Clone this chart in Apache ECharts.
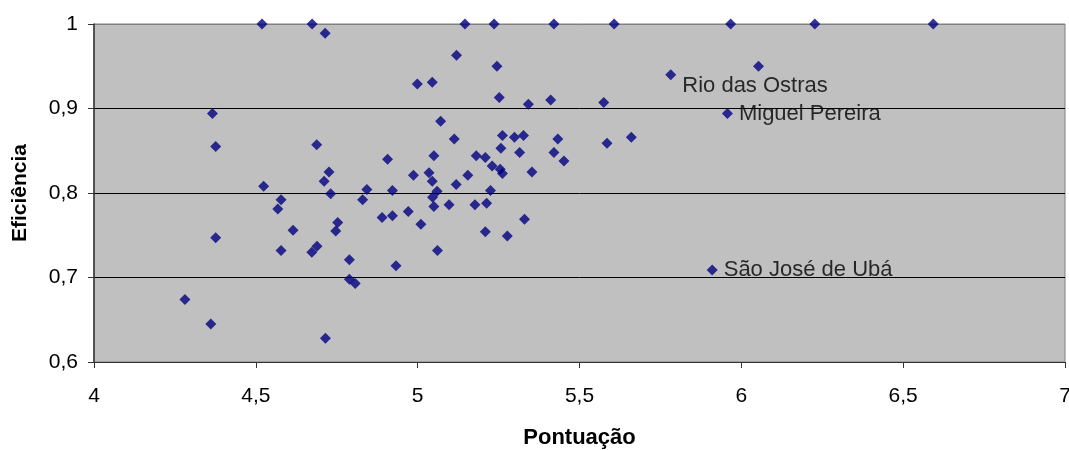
<!DOCTYPE html>
<html>
<head>
<meta charset="utf-8">
<script src="https://cdn.jsdelivr.net/npm/echarts@6/dist/echarts.min.js"></script>
<style>
  html, body { margin: 0; padding: 0; background: #fff; }
  #chart { width: 1069px; height: 450px; }
</style>
</head>
<body>
<div id="chart"></div>
<script>
// Municípios: pontuação (x) vs eficiência (y)
var pontuacao = [
  4.519, 4.674, 4.714, 5.146, 5.236, 5.421, 5.607, 5.967, 6.227, 6.593,
  6.053, 4.999, 5.045, 5.120, 5.245, 5.252, 5.342, 5.411, 5.575,
  4.366, 4.376, 4.688, 4.907, 4.726, 4.711, 4.987, 4.524, 4.731, 4.843,
  4.922, 4.830, 4.578, 4.568, 4.890, 4.922, 4.971, 5.010, 4.753, 4.747,
  4.615, 4.376, 4.578, 4.689, 4.673, 4.789, 4.933, 4.789, 4.807, 4.281,
  4.361, 4.715,
  5.071, 5.113, 5.262, 5.299, 5.327, 5.433, 5.585, 5.660, 5.050, 5.257,
  5.181, 5.209, 5.315, 5.421, 5.452, 5.035, 5.045, 5.155, 5.119, 5.230,
  5.262, 5.255, 5.353, 5.225, 5.060, 5.046, 5.050, 5.097, 5.177, 5.213,
  5.330, 5.209, 5.277, 5.061
];
var eficiencia = [
  1.000, 1.000, 0.989, 1.000, 1.000, 1.000, 1.000, 1.000, 1.000, 1.000,
  0.950, 0.929, 0.931, 0.963, 0.950, 0.913, 0.905, 0.910, 0.907,
  0.894, 0.855, 0.857, 0.840, 0.825, 0.814, 0.821, 0.808, 0.799, 0.804,
  0.803, 0.792, 0.792, 0.781, 0.771, 0.773, 0.778, 0.763, 0.765, 0.755,
  0.756, 0.747, 0.732, 0.737, 0.730, 0.721, 0.714, 0.698, 0.693, 0.674,
  0.645, 0.628,
  0.885, 0.864, 0.868, 0.866, 0.868, 0.864, 0.859, 0.866, 0.844, 0.853,
  0.844, 0.842, 0.848, 0.848, 0.838, 0.824, 0.814, 0.821, 0.810, 0.832,
  0.823, 0.828, 0.825, 0.803, 0.802, 0.795, 0.784, 0.786, 0.786, 0.788,
  0.769, 0.754, 0.749, 0.732
];

// Municípios destacados com nome
var destaqueNomes = ['Rio das Ostras', 'Miguel Pereira', 'São José de Ubá'];
var destaquePontuacao = [5.782, 5.957, 5.910];
var destaqueEficiencia = [0.940, 0.894, 0.709];

var xTicks = [4, 4.5, 5, 5.5, 6, 6.5, 7];
var yTicks = [0.6, 0.7, 0.8, 0.9, 1];

function fmt(v) {
  return String(Math.round(v * 10) / 10).replace('.', ',');
}

var pontos = pontuacao.map(function (x, i) { return [x, eficiencia[i]]; });
var destaques = destaqueNomes.map(function (n, i) {
  return { value: [destaquePontuacao[i], destaqueEficiencia[i]], name: n };
});

var FONT = '"Liberation Sans", Arial, sans-serif';
var NAVY = '#000080';

var chart = echarts.init(document.getElementById('chart'), null, { renderer: 'canvas' });
chart.setOption({
  animation: false,
  backgroundColor: '#ffffff',
  grid: {
    left: 94, right: 4, top: 24, bottom: 88,
    outerBoundsMode: 'none',
    containLabel: false,
    show: true,
    backgroundColor: '#c0c0c0',
    borderColor: '#808080',
    borderWidth: 1
  },
  xAxis: {
    type: 'value',
    min: xTicks[0], max: xTicks[xTicks.length - 1], interval: 0.5,
    name: 'Pontuação',
    nameLocation: 'middle',
    nameGap: 65,
    nameTextStyle: { fontFamily: FONT, fontSize: 22, fontWeight: 'bold', color: '#000' },
    axisLine: { show: true, lineStyle: { color: '#333', width: 1 } },
    axisTick: { show: true, inside: false, length: 6, lineStyle: { color: '#333' } },
    axisLabel: { margin: 24, fontFamily: FONT, fontSize: 21, color: '#000', formatter: fmt },
    splitLine: { show: false }
  },
  yAxis: {
    type: 'value',
    min: yTicks[0], max: yTicks[yTicks.length - 1], interval: 0.1,
    name: 'Eficiência',
    nameLocation: 'middle',
    nameGap: 63,
    nameRotate: 90,
    nameTextStyle: { fontFamily: FONT, fontSize: 21, fontWeight: 'bold', color: '#000' },
    axisLine: { show: true, lineStyle: { color: '#333', width: 1.5 } },
    axisTick: { show: true, inside: false, length: 6, lineStyle: { color: '#333' } },
    axisLabel: { margin: 16, fontFamily: FONT, fontSize: 21, color: '#000', formatter: fmt },
    splitLine: {
      show: true,
      lineStyle: { color: ['#000', '#000', '#000', '#000', '#808080'], width: 1 }
    }
  },
  series: [
    {
      type: 'scatter',
      data: pontos,
      symbol: 'diamond',
      symbolSize: 11,
      itemStyle: { color: NAVY }
    },
    {
      type: 'scatter',
      data: destaques,
      symbol: 'diamond',
      symbolSize: 11,
      itemStyle: { color: NAVY },
      label: {
        show: true,
        position: 'right',
        distance: 6,
        formatter: function (p) { return p.name; },
        fontFamily: FONT,
        fontSize: 22,
        color: '#000'
      },
      labelLayout: function (params) {
        if (params.dataIndex === 0) {
          return { dy: 11 };
        }
        return {};
      }
    }
  ]
});
</script>
</body>
</html>
